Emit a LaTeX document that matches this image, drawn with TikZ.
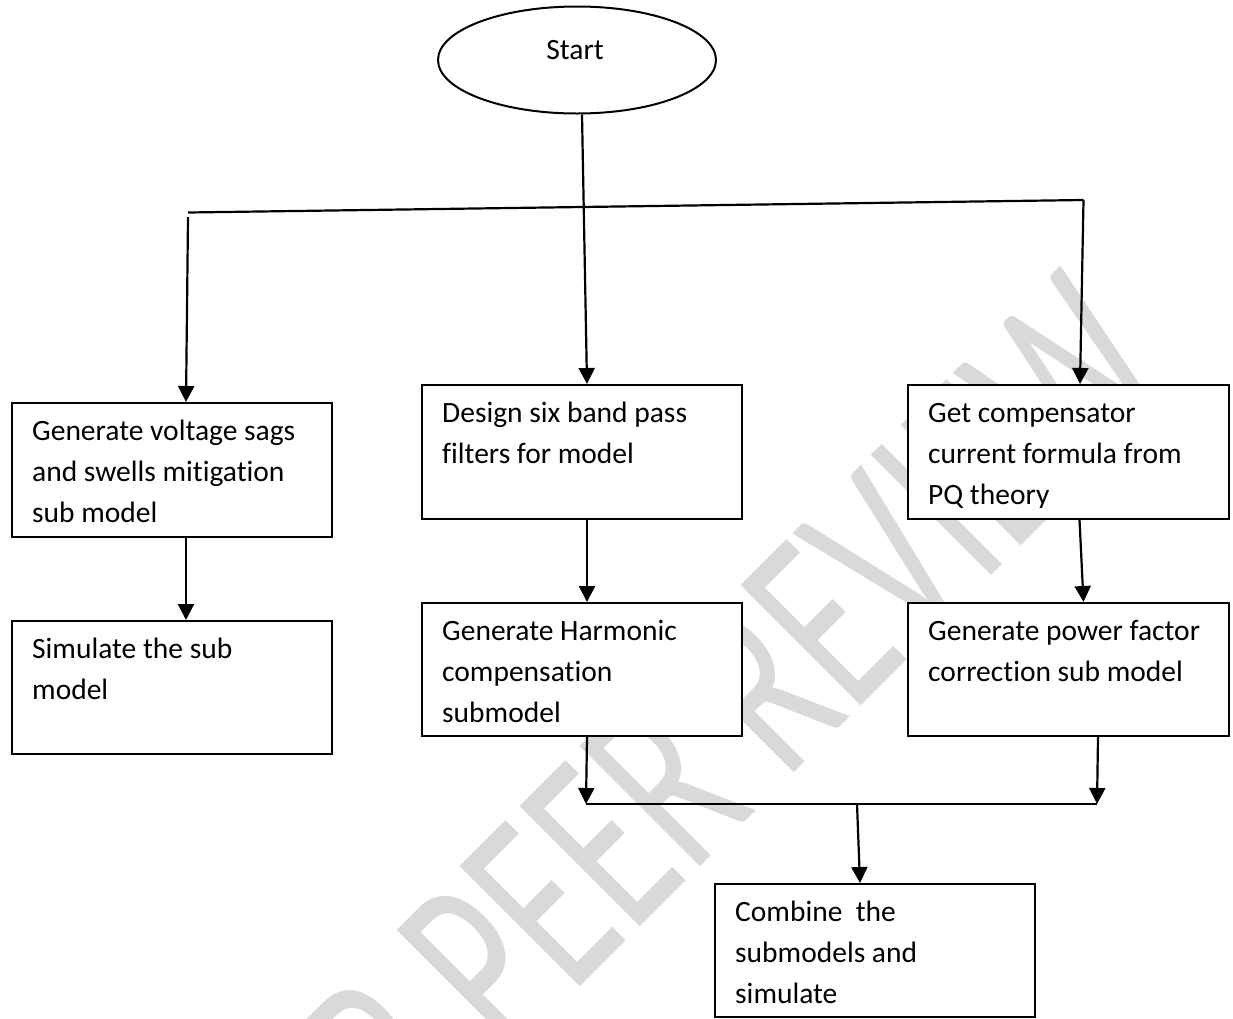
\documentclass[tikz,border=0pt]{standalone}
\usepackage{fontspec}
\usepackage{graphicx}
\setmainfont{Carlito}[Ligatures=NoCommon]
\usetikzlibrary{arrows.meta,calc,shapes.geometric}
\newcommand{\tlines}[1]{\vtop{\baselineskip=41pt\lineskiplimit=-100pt\halign{##\hfil\cr#1\crcr}}}
\definecolor{wmgray}{RGB}{217,217,217}
\begin{document}
\begin{tikzpicture}[x=1pt,y=-1pt,
  box/.style={draw, line width=2pt, fill=white, anchor=north west, inner sep=0pt},
  txt/.style={anchor=base west, inner sep=0pt, font=\fontsize{29.5}{41}\selectfont},
  ln/.style={line width=2.2pt},
  arr/.style={line width=2.2pt, -{Triangle[width=16pt,length=16pt]}},
  wm/.style={rotate=45, text=wmgray, inner sep=0pt, font=\fontsize{265}{265}\selectfont}]
\useasboundingbox (0,0) rectangle (1233,1018);
% watermark
\begin{scope}
\clip (0,0) rectangle (1233,1018);
\node[wm] (W1) at (785,662) {\scalebox{0.655}[1]{PEER REVIEW}};
\node[wm, anchor=base east] (W0) at (W1.base west) {\scalebox{0.655}[1]{UNDER\ }};
\end{scope}
% start
\node[draw, ellipse, line width=2pt, fill=white, inner sep=0pt, minimum width=278pt, minimum height=107pt] (S) at (577,60) {};
\node[anchor=base, inner sep=0pt, font=\fontsize{29.5}{41}\selectfont] (St) at (575,59) {Start};
% boxes
\node[box, minimum width=320pt, minimum height=134pt] (A) at (11,402) {};
\node[box, minimum width=320pt, minimum height=134pt] (B) at (421,384) {};
\node[box, minimum width=321pt, minimum height=134pt] (C) at (907,384) {};
\node[box, minimum width=320pt, minimum height=133pt] (D) at (11,620) {};
\node[box, minimum width=320pt, minimum height=133pt] (E) at (421,602) {};
\node[box, minimum width=321pt, minimum height=133pt] (F) at (907,602) {};
\node[box, minimum width=320pt, minimum height=133pt] (G) at (714,883) {};
% texts
\node[txt] (At) at (32,440.5) {\tlines{Generate voltage sags\cr and swells mitigation\cr sub model}};
\node[txt] (Bt) at (442,422.5) {\tlines{Design six band pass\cr filters for model}};
\begin{scope}
\clip (907,384) rectangle (1228,507);
\node[txt] (Ct) at (928,422.5) {\tlines{Get compensator\cr current formula from\cr PQ theory}};
\end{scope}
\node[txt] (Dt) at (32,658.5) {\tlines{Simulate the sub\cr model}};
\node[txt] (Et) at (442,640.5) {\tlines{Generate Harmonic\cr compensation\cr submodel}};
\node[txt] (Ft) at (928,640.5) {\tlines{Generate power factor\cr correction sub model}};
\node[txt] (Gt) at (735,921.5) {\tlines{Combine\ \ the\cr submodels and\cr simulate}};
% connectors
\coordinate (hL) at (188,212.5);
\coordinate (hR) at (1083.5,200);
\coordinate (vL) at (188,217);
\coordinate (jL) at (586,804);
\coordinate (jR) at (1097,804);
\coordinate (jM) at (857,804);
\draw[arr] ($(S.south)+(5,0)$) -- ($(B.north)+(5,0)$);
\draw[ln] (hL) -- (hR);
\draw[arr] (hR) -- ($(C.north)+(11.5,0)$);
\draw[arr] (vL) -- ($(A.north)+(14,0)$);
\draw[arr] ($(A.south)+(14,0)$) -- ($(D.north)+(14,0)$);
\draw[arr] ($(B.south)+(5,0)$) -- ($(E.north)+(5,0)$);
\draw[arr] ($(C.south)+(11,0)$) -- ($(F.north)+(15,0)$);
\draw[arr] ($(E.south)+(5,0)$) -- (jL);
\draw[arr] ($(F.south)+(29.5,0)$) -- (jR);
\draw[ln] (jL) -- (jR);
\draw[arr] (jM) -- ($(G.north)+(-15,0)$);
\end{tikzpicture}
\end{document}
